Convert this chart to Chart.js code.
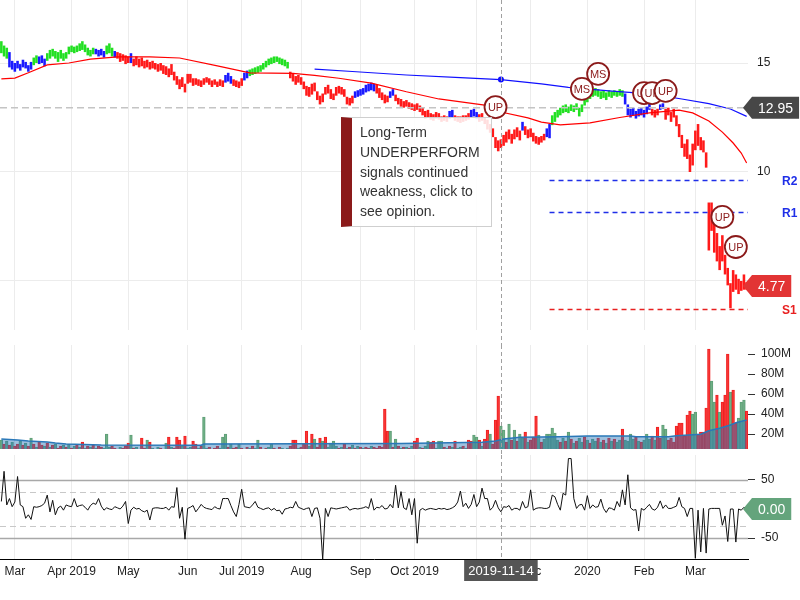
<!DOCTYPE html>
<html lang="en">
<head>
<meta charset="UTF-8">
<title>Price, volume and oscillator</title>
<style>
  body { margin: 0; background: #fff; font-family: Arial, "Liberation Sans", sans-serif; }
  .wrap { position: relative; width: 800px; height: 600px; overflow: hidden; }
  canvas { position: absolute; left: 0; }
  #priceChart { top: 0; }
  #volChart { top: 345px; }
  #oscChart { top: 455px; }
  .tip {
    position: absolute; left: 341px; top: 117px; width: 151px; height: 110px;
    box-sizing: border-box; border: 1px solid #cfcfcf; border-left: 11px solid #8b1a1a;
    background: rgba(255,255,255,0.86); padding: 5px 0 0 8px;
    font-size: 14px; line-height: 19.8px; color: #333;
  }
</style>
</head>
<body>
<div class="wrap">
  <canvas id="priceChart" width="800" height="345"></canvas>
  <canvas id="volChart" width="800" height="110"></canvas>
  <canvas id="oscChart" width="800" height="145"></canvas>
  <div class="tip">Long-Term<br>UNDERPERFORM<br>signals continued<br>weakness, click to<br>see opinion.</div>
</div>

<script src="https://cdn.jsdelivr.net/npm/chart.js"></script>
<script>
  // trading calendar
  const firstDay = '2019-02-22';
  const lastDay = '2020-03-27';
  const holidays = ['2019-04-19', '2019-05-27', '2019-07-04', '2019-09-02', '2019-11-28',
    '2019-12-25', '2020-01-01', '2020-01-20', '2020-02-17'];

  // daily low / high
  const lows = [
    15.45, 15.3, 15.2, 14.8, 14.7, 14.6, 14.75, 14.65, 14.8, 14.75,
    14.6, 14.7, 14.9, 15.0, 14.95, 15.0, 14.85, 15.1, 15.2, 15.3,
    15.2, 15.05, 15.2, 15.1, 15.2, 15.4, 15.5, 15.45, 15.5, 15.55,
    15.6, 15.5, 15.35, 15.3, 15.4, 15.4, 15.3, 15.35, 15.25, 15.4,
    15.45, 15.3, 15.25, 15.2, 15.05, 15.1, 14.95, 15.0, 15.0, 14.85,
    14.9, 14.8, 14.85, 14.75, 14.8, 14.7, 14.75, 14.7, 14.6, 14.65,
    14.5, 14.45, 14.35, 14.45, 14.2, 14.0, 13.8, 13.9, 13.65, 14.05,
    14.1, 13.95, 14.0, 13.95, 13.9, 14.0, 14.1, 14.0, 13.9, 14.0,
    13.9, 13.95, 13.9, 14.1, 14.15, 14.05, 13.95, 13.9, 13.85, 13.95,
    14.2, 14.3, 14.4, 14.45, 14.5, 14.55, 14.6, 14.7, 14.8, 14.9,
    14.95, 15.0, 15.05, 14.95, 14.9, 14.85, 14.75, 14.3, 14.15, 14.0,
    14.1, 14.0, 13.8, 13.5, 13.45, 13.55, 13.7, 13.3, 13.1, 13.2,
    13.55, 13.6, 13.35, 13.3, 13.5, 13.6, 13.55, 13.45, 13.1, 13.05,
    13.15, 13.4, 13.45, 13.5, 13.55, 13.65, 13.7, 13.75, 13.7, 13.6,
    13.4, 13.3, 13.15, 13.2, 13.4, 13.5, 13.25, 13.1, 13.0, 12.95,
    13.0, 12.9, 12.85, 12.8, 12.85, 12.75, 12.6, 12.45, 12.5, 12.4,
    12.35, 12.45, 12.4, 12.3, 12.35, 12.3, 12.45, 12.5, 12.35, 12.3,
    12.25, 12.3, 12.35, 12.4, 12.5, 12.55, 12.45, 12.3, 12.35, 12.2,
    11.95, 11.8, 11.6, 11.1, 10.95, 11.1, 11.2, 11.35, 11.5, 11.3,
    11.5, 11.6, 11.45, 11.9, 11.7, 11.55, 11.6, 11.4, 11.3, 11.25,
    11.35, 11.45, 11.6, 11.55, 12.15, 12.3, 12.5, 12.6, 12.7, 12.75,
    12.7, 12.8, 12.75, 12.85, 12.55, 12.75, 13.05, 13.2, 13.35, 13.45,
    13.5, 13.45, 13.35, 13.4, 13.3, 13.45, 13.4, 13.5, 13.45, 13.5,
    13.45, 13.1, 12.6, 12.5, 12.6, 12.45, 12.55, 12.6, 12.5, 12.65,
    12.85, 12.6, 12.5, 12.6, 12.85, 12.9, 12.4, 12.6, 12.3, 12.5,
    12.1, 11.6, 11.1, 10.7, 10.6, 10.0, 10.3, 11.0, 11.2, 11.0,
    10.9, 10.2, 6.4, 7.3, 6.3, 5.9, 5.5, 5.9, 5.3, 4.8,
    3.75, 4.5, 4.6, 4.4, 4.55, 4.6, 4.6
  ];
  const highs = [
    16.0, 15.8, 15.7, 15.5, 15.1, 15.0, 15.1, 14.95, 15.15, 15.05,
    14.9, 15.05, 15.25, 15.35, 15.3, 15.35, 15.2, 15.45, 15.6, 15.65,
    15.55, 15.5, 15.6, 15.45, 15.5, 15.75, 15.8, 15.75, 15.8, 15.9,
    16.0, 15.85, 15.7, 15.6, 15.7, 15.65, 15.6, 15.65, 15.55, 15.8,
    15.9, 15.7, 15.55, 15.5, 15.45, 15.4, 15.35, 15.3, 15.45, 15.2,
    15.3, 15.2, 15.25, 15.1, 15.15, 15.05, 15.1, 15.0, 14.95, 15.0,
    14.9, 14.85, 14.75, 14.95, 14.6, 14.4, 14.25, 14.35, 14.05, 14.5,
    14.5, 14.3, 14.3, 14.25, 14.2, 14.3, 14.35, 14.3, 14.2, 14.25,
    14.15, 14.25, 14.2, 14.45, 14.55, 14.4, 14.25, 14.2, 14.15, 14.3,
    14.55, 14.65, 14.7, 14.75, 14.8, 14.85, 14.9, 15.0, 15.1, 15.2,
    15.25, 15.3, 15.3, 15.25, 15.2, 15.15, 15.05, 14.6, 14.5, 14.4,
    14.45, 14.35, 14.15, 13.95, 13.9, 14.05, 14.1, 13.7, 13.5, 13.6,
    13.9, 14.0, 13.8, 13.6, 13.9, 13.95, 13.9, 13.8, 13.45, 13.4,
    13.5, 13.7, 13.75, 13.8, 13.85, 14.0, 14.05, 14.1, 14.05, 14.0,
    13.85, 13.65, 13.55, 13.5, 13.7, 13.8, 13.55, 13.4, 13.35, 13.25,
    13.3, 13.2, 13.15, 13.1, 13.15, 13.05, 12.95, 12.8, 12.85, 12.7,
    12.65, 12.75, 12.7, 12.55, 12.6, 12.55, 12.8, 12.85, 12.6, 12.55,
    12.55, 12.6, 12.6, 12.7, 12.85, 12.9, 12.75, 12.65, 12.7, 12.5,
    12.4, 12.2, 12.0, 11.6, 11.45, 11.5, 11.7, 11.85, 11.95, 11.75,
    11.95, 12.05, 11.9, 12.3, 12.1, 11.95, 12.0, 11.8, 11.65, 11.6,
    11.65, 11.75, 12.0, 12.2, 12.6, 12.75, 12.85, 12.95, 13.05, 13.1,
    13.0, 13.1, 13.05, 13.15, 12.95, 13.1, 13.4, 13.55, 13.7, 13.8,
    13.85, 13.8, 13.7, 13.75, 13.65, 13.75, 13.7, 13.75, 13.7, 13.8,
    13.75, 13.6, 13.1, 12.9, 12.95, 12.8, 12.9, 12.95, 12.85, 13.0,
    13.25, 12.9, 12.85, 12.9, 13.1, 13.15, 12.9, 12.95, 12.75, 12.9,
    12.6, 12.2, 11.7, 11.3, 11.5, 10.8, 11.3, 11.9, 12.2, 11.6,
    11.45, 10.9, 8.6, 8.6, 8.0, 7.2, 6.6, 7.1, 6.2, 5.6,
    4.9, 5.5, 5.3, 5.1, 5.0, 5.3, 4.95
  ];
  // G = bullish, B = neutral, R = bearish (run lengths in days)
  const trendRuns = [['G', 3], ['B', 9], ['G', 2], ['B', 3], ['G', 18], ['B', 4], ['G', 3], ['B', 1],
    ['R', 5], ['B', 1], ['R', 34], ['B', 3], ['R', 4], ['B', 2], ['G', 15], ['R', 24], ['B', 8],
    ['R', 5], ['B', 2], ['R', 20], ['B', 2], ['R', 6], ['B', 3], ['R', 16], ['B', 1], ['R', 8],
    ['B', 2], ['G', 27], ['B', 10], ['R', 3], ['B', 2], ['R', 31]];

  // moving averages (day index -> price)
  const shortMaIdx = [0, 5, 10, 17, 25, 33, 43, 55, 66, 80, 92, 100, 108, 116, 125, 137, 150, 162,
    179, 185, 195, 200, 207, 218, 229, 240, 251, 256, 262, 267, 271, 274, 276];
  const shortMaVal = [14.27, 14.31, 14.55, 14.91, 15.0, 15.18, 15.28, 15.28, 15.23, 14.87, 14.55,
    14.54, 14.52, 14.43, 14.3, 14.08, 13.68, 13.35, 13.07, 12.75, 12.48, 12.29, 12.16, 12.25,
    12.5, 12.71, 12.84, 12.71, 12.34, 11.83, 11.33, 10.87, 10.41];
  const longMaIdx = [116, 130, 150, 170, 185, 200, 210, 225, 240, 252, 262, 270, 276];
  const longMaVal = [14.72, 14.61, 14.45, 14.33, 14.24, 14.04, 13.88, 13.72, 13.58, 13.35, 13.14, 12.89, 12.55];

  // volume in millions, r = down day, g = up day
  const volumes = [
    14, 10, 13, 9, 12, 8, 10, 13, 9, 11,
    8, 16, 10, 7, 12, 9, 8, 11, 7, 9,
    10, 6, 8, 9, 7, 10, 6, 8, 9, 7,
    12, 6, 8, 7, 9, 6, 8, 7, 6, 20,
    7, 8, 6, 5, 7, 6, 8, 11, 19, 6,
    7, 5, 16, 6, 14, 12, 6, 5, 7, 6,
    5, 11, 17, 7, 6, 17, 14, 8, 18, 6,
    7, 13, 10, 6, 8, 37, 6, 7, 5, 6,
    8, 6, 17, 20, 7, 10, 6, 7, 10, 6,
    5, 7, 6, 8, 6, 14, 7, 5, 6, 7,
    10, 6, 5, 7, 6, 5, 6, 8, 14, 14,
    6, 7, 10, 23, 8, 20, 15, 7, 16, 13,
    17, 7, 11, 13, 8, 6, 7, 10, 6, 7,
    9, 6, 8, 7, 6, 7, 6, 8, 7, 6,
    8, 7, 45, 23, 23, 7, 15, 8, 6, 7,
    7, 6, 8, 13, 16, 7, 6, 8, 13, 12,
    13, 6, 13, 13, 7, 6, 8, 7, 13, 6,
    7, 8, 6, 14, 13, 19, 17, 14, 8, 15,
    24, 20, 10, 34, 58, 28, 24, 12, 30, 14,
    24, 13, 20, 16, 22, 12, 14, 17, 38, 19,
    12, 15, 20, 20, 26, 21, 14, 12, 16, 13,
    22, 15, 11, 13, 16, 12, 17, 14, 11, 15,
    13, 16, 12, 14, 11, 16, 13, 15, 12, 14,
    25, 14, 13, 20, 15, 17, 13, 12, 14, 20,
    15, 18, 14, 27, 16, 29, 25, 14, 16, 12,
    28, 31, 31, 18, 39, 43, 40, 42, 20, 22,
    22, 46, 105, 73, 52, 59, 42, 52, 59, 100,
    62, 64, 31, 36, 52, 54, 43
  ];
  const volumeSide = [
    'grgrgrrgrg', 'rgrgrrgrgr', 'grrgrgrgrg', 'rgrgrgrrgg', 'grrrgrrrgr', 'grrrgrgrgr',
    'rgrgrrrgrg', 'grrgrggrgr', 'rgggrgrrgr', 'grgrggrgrg', 'grgrgrgrrr', 'grrrgrgrrg',
    'rggggrgrgr', 'grgrgrrgrr', 'rrrrgrgrgr', 'grgrrgrggr', 'rgggrgrgrg', 'grgrrggrgr',
    'rgrrrggrgr', 'grggrgrrrg', 'rggggggrgr', 'grgrggrgrg', 'grgrgrgrgg', 'rggggrgrgg',
    'grgrrggrrr', 'rrrrrrggrr', 'rrrggrgrrr', 'grrgggr'
  ].join('');
  const volMaIdx = [0, 6, 10, 17, 20, 24, 37, 74, 75, 148, 178, 183, 186, 192, 207, 217, 233,
    235, 247, 250, 259, 262, 266, 270, 272, 276];
  const volMaVal = [15, 14, 13, 12, 11, 10, 9, 8.7, 10, 10.5, 11.7, 13, 15, 16.7, 17.3, 18, 18,
    17.3, 17.3, 18.3, 19.7, 23.3, 25.7, 29, 31.3, 34];

  // oscillator
  const oscValues = [
    13, 65, 7, 18, 4, 12, 56, 7, 4, -16,
    -10, -18, 4, 3, 4, 6, 10, 24, -5, 15,
    -10, 2, 5, -2, 7, 5, 4, 18, 4, 6,
    7, 3, -2, 6, 10, 8, 18, 5, -2, 2,
    0, -1, 4, 2, 0, 5, 13, -25, -2, 3,
    0, 1, -3, -5, -2, -19, 1, 2, 2, 1,
    1, 3, -2, 4, 3, 37, -16, 3, -52, 1,
    3, 6, -5, 1, 8, 3, 1, 0, -1, 4,
    1, 0, 18, 18, 18, 6, -5, -13, 8, 34,
    4, 3, 2, 7, 13, 3, 1, -1, 1, 2,
    -2, 1, -3, -2, -9, 0, 1, 3, 2, 13,
    3, 1, -1, 1, 2, -13, 1, 2, -16, -87,
    1, -13, 2, 1, 0, 1, 2, 3, 4, -2,
    0, 1, 0, 1, 2, 4, 1, 18, -2, 3,
    2, 6, 0, 1, 8, 2, 41, 2, 30, 2,
    -1, 18, -10, 18, -59, -2, 1, -2, 0, 1,
    0, -1, 1, 0, 1, -1, 0, 2, 5, 12,
    31, 4, 10, 1, 8, 25, 4, 12, 36, 18,
    18, -2, 3, 15, 2, -5, 4, 3, 6, -2,
    1, 1, -2, 13, 2, 4, 33, -2, 1, 2,
    2, 1, 1, 3, 24, 21, 8, -2, 27, 24,
    87, 87, 18, 1, 7, 8, -2, 23, 1, 7,
    3, 4, 17, 1, -6, 2, 1, -2, 13, 4,
    33, 7, 59, 2, -2, -1, -38, 1, -2, 3,
    8, 0, -2, 3, 14, 1, 7, 1, 1, 3,
    5, 20, 4, 1, -13, 1, 1, -85, -2, -74,
    1, -76, 0, 1, 1, 1, 1, -28, -12, -56,
    0, 0, -57, 0, -2, 3, 0
  ];

  // signals, levels and readouts
  const signalIdx = [183, 215, 221, 238, 241, 246, 267, 272];
  const signalPrice = [12.98, 13.81, 14.5, 13.62, 13.62, 13.72, 7.94, 6.56];
  const signalText = ['UP', 'MS', 'MS', 'UP', 'UP', 'UP', 'UP', 'UP'];
  const levelNames = ['R2', 'R1', 'S1'];
  const levelValues = [9.63, 8.17, 3.72];
  const levelColors = ['#1f2fe8', '#1f2fe8', '#e82020'];
  const levelFrom = 203;
  const crossIdx = 185;
  const crossPrice = 12.95;
  const lastPrice = 4.77;
  const lastOsc = 0;

  // ---------------------------------------------------------------
  const dates = [];
  for (let d = new Date(firstDay + 'T00:00:00Z'); d <= new Date(lastDay + 'T00:00:00Z'); d.setUTCDate(d.getUTCDate() + 1)) {
    const s = d.toISOString().slice(0, 10);
    const wd = d.getUTCDay();
    if (wd !== 0 && wd !== 6 && !holidays.includes(s)) dates.push(s);
  }
  const n = dates.length;
  [lows, highs, volumes, oscValues].forEach((a, k) => {
    if (a.length !== n) throw new Error('length mismatch ' + k + ': ' + a.length + ' vs ' + n);
  });
  if (volumeSide.length !== n) throw new Error('volumeSide ' + volumeSide.length);

  const trendColor = { G: '#22e022', B: '#1a1aff', R: '#ff1a1a' };
  const barColors = [];
  trendRuns.forEach(([t, len]) => { for (let k = 0; k < len; k++) barColors.push(trendColor[t]); });

  const monthNames = ['Jan', 'Feb', 'Mar', 'Apr', 'May', 'Jun', 'Jul', 'Aug', 'Sep', 'Oct', 'Nov', 'Dec'];
  const isMonthStart = dates.map((s, i) => i > 0 && s.slice(5, 7) !== dates[i - 1].slice(5, 7));
  function monthLabel(i) {
    const y = +dates[i].slice(0, 4), m = +dates[i].slice(5, 7);
    if (m === 1) return String(y);
    if (m === 4 || m === 7 || m === 10) return monthNames[m - 1] + ' ' + y;
    return monthNames[m - 1];
  }
  const toPoints = (idx, vals) => idx.map((i, k) => ({ x: dates[i], y: vals[k] }));

  Chart.defaults.font.family = 'Arial, "Liberation Sans", sans-serif';
  Chart.defaults.font.size = 12;
  Chart.defaults.color = '#222';

  const gridColor = '#ececec';
  function xScale(showLabels, height) {
    return {
      type: 'category', offset: true,
      grid: { offset: false, color: gridColor, drawTicks: false },
      border: showLabels ? { display: true, color: '#000', width: 1 } : { display: false },
      ticks: { display: showLabels, autoSkip: false, maxRotation: 0, padding: 5, callback: v => monthLabel(v) },
      afterBuildTicks: a => { a.ticks = a.ticks.filter(t => isMonthStart[t.value]); },
      afterFit: a => { a.height = height; a.paddingLeft = 0; a.paddingRight = 0; }
    };
  }
  function yScale(min, max, tickVals, withMarks, fmt) {
    return {
      position: 'right', min, max,
      grid: withMarks
        ? { drawOnChartArea: false, drawTicks: true, tickLength: 7, tickColor: '#333' }
        : { color: gridColor, drawTicks: false },
      border: { display: false },
      ticks: { padding: withMarks ? 6 : 9, callback: fmt || (v => v) },
      afterBuildTicks: a => { a.ticks = tickVals.map(v => ({ value: v })); },
      afterFit: a => { a.width = 52; a.paddingTop = 0; a.paddingBottom = 0; }
    };
  }
  const baseOptions = {
    responsive: false, animation: false, events: [],
    layout: { padding: 0 },
    plugins: { legend: { display: false }, tooltip: { enabled: false } }
  };

  function dashedV(chart, bottom) {
    const ctx = chart.ctx;
    const x = Math.round(chart.scales.x.getPixelForValue(crossIdx)) + 0.5;
    ctx.save();
    ctx.strokeStyle = '#a0a0a0'; ctx.lineWidth = 1; ctx.setLineDash([4, 3]);
    ctx.beginPath(); ctx.moveTo(x, 0); ctx.lineTo(x, bottom); ctx.stroke();
    ctx.restore();
  }
  function flag(ctx, right, y, text, color) {
    ctx.save();
    ctx.font = '14px Arial, "Liberation Sans", sans-serif';
    const w = ctx.measureText(text).width + 12;
    const tip = right - 5, left = right + 4, h = 11;
    ctx.fillStyle = color;
    ctx.beginPath();
    ctx.moveTo(tip, y); ctx.lineTo(left, y - h); ctx.lineTo(left + w, y - h);
    ctx.lineTo(left + w, y + h); ctx.lineTo(left, y + h); ctx.closePath(); ctx.fill();
    ctx.fillStyle = '#fff'; ctx.textAlign = 'center'; ctx.textBaseline = 'middle';
    ctx.fillText(text, left + w / 2, y + 1);
    ctx.restore();
  }

  // ---------------- price panel
  new Chart(document.getElementById('priceChart'), {
    type: 'bar',
    data: {
      labels: dates,
      datasets: [
        { type: 'line', data: toPoints(shortMaIdx, shortMaVal), borderColor: '#ff0000', borderWidth: 1.2,
          pointRadius: 0, order: 0 },
        { type: 'line', data: toPoints(longMaIdx, longMaVal), borderColor: '#1010ff', borderWidth: 1.2,
          pointRadius: c => (c.parsed && c.parsed.x === crossIdx ? 3 : 0), pointBackgroundColor: '#1010ff',
          pointBorderWidth: 0, order: 0 },
        { type: 'bar', data: lows.map((lo, i) => [lo, highs[i]]), backgroundColor: barColors,
          barPercentage: 0.95, categoryPercentage: 1, order: 1 }
      ]
    },
    options: {
      ...baseOptions,
      scales: { x: xScale(false, 15), y: yScale(2.752, 17.89, [5, 10, 15], false) }
    },
    plugins: [{
      id: 'priceOverlay',
      afterDraw(chart) {
        const ctx = chart.ctx, area = chart.chartArea, xs = chart.scales.x, ys = chart.scales.y;
        dashedV(chart, chart.height);
        // readout line
        const yc = ys.getPixelForValue(crossPrice);
        ctx.save();
        ctx.strokeStyle = '#c4c4c4'; ctx.lineWidth = 1.5; ctx.setLineDash([7, 4]);
        ctx.beginPath(); ctx.moveTo(area.left, yc); ctx.lineTo(area.right, yc); ctx.stroke();
        // support / resistance
        ctx.setLineDash([5, 4]); ctx.lineWidth = 1.5;
        ctx.font = 'bold 12px Arial, "Liberation Sans", sans-serif'; ctx.textBaseline = 'middle';
        levelValues.forEach((v, k) => {
          const y = Math.round(ys.getPixelForValue(v)) + 0.5;
          ctx.strokeStyle = levelColors[k];
          ctx.beginPath(); ctx.moveTo(xs.getPixelForValue(levelFrom), y); ctx.lineTo(area.right, y); ctx.stroke();
          ctx.fillStyle = levelColors[k];
          ctx.fillText(levelNames[k], area.right + 34, y + 1);
        });
        ctx.setLineDash([]);
        // signal markers
        signalIdx.forEach((i, k) => {
          const x = xs.getPixelForValue(i), y = ys.getPixelForValue(signalPrice[k]);
          ctx.beginPath(); ctx.arc(x, y, 11, 0, Math.PI * 2);
          ctx.fillStyle = '#fff'; ctx.fill();
          ctx.strokeStyle = '#8b1a1a'; ctx.lineWidth = 1.8; ctx.stroke();
          ctx.fillStyle = '#8b1a1a'; ctx.font = '11px Arial, "Liberation Sans", sans-serif';
          ctx.textAlign = 'center'; ctx.textBaseline = 'middle';
          ctx.fillText(signalText[k], x, y + 1);
        });
        ctx.restore();
        flag(ctx, area.right, yc, crossPrice.toFixed(2), '#474747');
        flag(ctx, area.right, ys.getPixelForValue(lastPrice), lastPrice.toFixed(2), '#e23434');
      }
    }]
  });

  // ---------------- volume panel
  new Chart(document.getElementById('volChart'), {
    type: 'bar',
    data: {
      labels: dates,
      datasets: [
        { type: 'line', data: toPoints(volMaIdx, volMaVal), borderColor: '#2a78b8', borderWidth: 1.5,
          backgroundColor: 'rgba(40,118,185,0.45)', fill: 'start',
          pointRadius: c => (c.parsed && c.parsed.x === crossIdx ? 3 : 0), pointBackgroundColor: '#1d5d9a',
          pointBorderWidth: 0, order: 0 },
        { type: 'bar', data: volumes,
          backgroundColor: volumes.map((v, i) => volumeSide[i] === 'r' ? 'rgba(255,70,70,0.55)' : 'rgba(120,185,140,0.6)'),
          borderColor: volumes.map((v, i) => volumeSide[i] === 'r' ? '#f02020' : '#5f9f78'),
          borderWidth: 1, barPercentage: 1, categoryPercentage: 1, order: 1 }
      ]
    },
    options: {
      ...baseOptions,
      scales: {
        x: xScale(false, 6),
        y: yScale(5, 109, [20, 40, 60, 80, 100], true, v => v + 'M')
      }
    },
    plugins: [{ id: 'volOverlay', afterDraw(chart) { dashedV(chart, chart.height); } }]
  });

  // ---------------- oscillator panel
  new Chart(document.getElementById('oscChart'), {
    type: 'line',
    data: {
      labels: dates,
      datasets: [{ data: oscValues, borderColor: '#111', borderWidth: 1, pointRadius: 0, tension: 0 }]
    },
    options: {
      ...baseOptions,
      scales: { x: xScale(true, 41), y: yScale(-86.2, 93.1, [-50, 50], true) }
    },
    plugins: [{
      id: 'oscOverlay',
      beforeDatasetsDraw(chart) {
        const ctx = chart.ctx, area = chart.chartArea, ys = chart.scales.y;
        ctx.save();
        [[50, false], [-50, false], [30, true], [-30, true]].forEach(([v, dashed]) => {
          const y = Math.round(ys.getPixelForValue(v)) + 0.5;
          ctx.strokeStyle = dashed ? '#c8c8c8' : '#a8a8a8';
          ctx.lineWidth = dashed ? 1 : 1.5;
          ctx.setLineDash(dashed ? [6, 4] : []);
          ctx.beginPath(); ctx.moveTo(area.left, y); ctx.lineTo(area.right, y); ctx.stroke();
        });
        ctx.restore();
      },
      afterDraw(chart) {
        const ctx = chart.ctx, area = chart.chartArea, xs = chart.scales.x, ys = chart.scales.y;
        dashedV(chart, area.bottom);
        flag(ctx, area.right, ys.getPixelForValue(lastOsc), lastOsc.toFixed(2), '#64a47c');
        // date badge under the crosshair
        const x = xs.getPixelForValue(crossIdx);
        ctx.save();
        ctx.font = '13px Arial, "Liberation Sans", sans-serif';
        const w = ctx.measureText(dates[crossIdx]).width + 8;
        ctx.fillStyle = '#555';
        ctx.fillRect(x - w / 2, area.bottom + 1, w, 21);
        ctx.fillStyle = '#fff'; ctx.textAlign = 'center'; ctx.textBaseline = 'middle';
        ctx.fillText(dates[crossIdx], x, area.bottom + 12);
        ctx.restore();
      }
    }]
  });
</script>
</body>
</html>
